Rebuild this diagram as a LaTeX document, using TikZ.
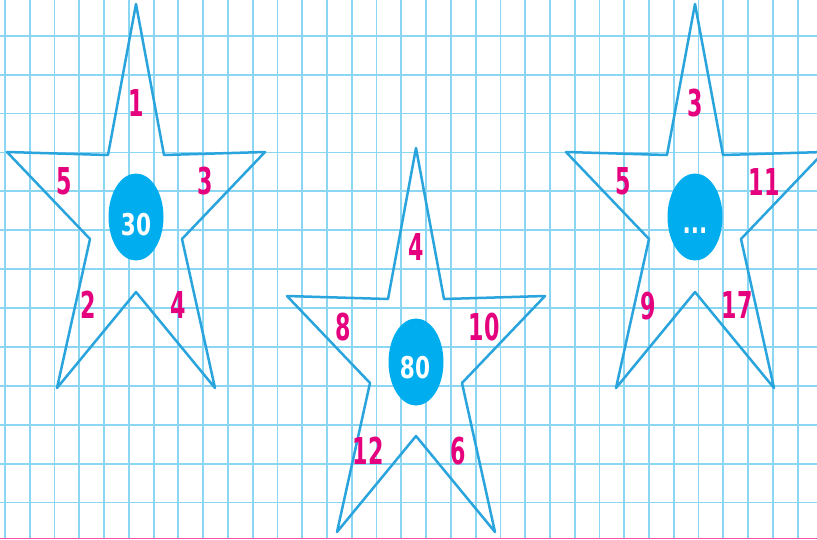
\documentclass[tikz,border=0pt]{standalone}
\usepackage{fontspec}
\usepackage{xcolor}
\usepackage{tikz}
\usetikzlibrary{shapes.geometric}

\newfontfamily\numfont[FakeStretch=0.6]{DejaVu Sans}
\newfontfamily\ctrfont[FakeStretch=0.72]{DejaVu Sans}

\definecolor{gridblue}{HTML}{8AD6F3}
\definecolor{starblue}{HTML}{2AA4DC}
\definecolor{discblue}{HTML}{00AEEF}
\definecolor{numpink}{HTML}{E5007D}
\definecolor{edgepink}{HTML}{FF4FAE}

\tikzset{
  gridline/.style={gridblue, line width=1.8pt},
  starline/.style={starblue, line width=2.5pt, line join=round},
  disc/.style={ellipse, fill=discblue, draw=none, minimum width=55pt, minimum height=87pt, inner sep=0pt},
  sidenum/.style={text=numpink, font=\numfont\bfseries\fontsize{37}{37}\selectfont, inner sep=0pt},
  centrenum/.style={text=white, font=\ctrfont\bfseries\fontsize{30}{30}\selectfont, inner sep=0pt}
}

\begin{document}
\begin{tikzpicture}[x=1pt, y=-1pt]
		\useasboundingbox (0,0) rectangle (817,539);
		\fill[white] (0,0) rectangle (817,539);
		\clip (0,0) rectangle (817,539);
		
		% Grid
		\foreach \k in {0,...,32}
			\draw[gridline] ({5+24.77*\k},0) -- ({5+24.77*\k},539);
		\foreach \k in {-1,...,12}
			\draw[gridline] (0,{35.7+38.9*\k}) -- (817,{35.7+38.9*\k});
		\draw[edgepink, line width=1.6pt] (0,538.3) -- (817,538.3);
		
		% Stars
		\foreach \tx/\ty in {136/4, 416/148, 695/4}
			\draw[starline, shift={(\tx,\ty)}] (0,0) -- (28,151) -- (129,148) -- (46,235) -- (79,384)
				-- (0,288) -- (-79,384) -- (-46,235) -- (-129,148) -- (-28,151) -- cycle;
		
		% Discs
		\node[disc] (c1) at (136,217) {};
		\node[disc] (c2) at (416,362) {};
		\node[disc] (c3) at (695,217) {};
		\node[centrenum] (t1) at (136,225) {30};
		\node[centrenum] (t2) at (415,368) {80};
		\node[centrenum] (t3) at (695,231) {...};
		
		% Numbers of the first star
		\node[sidenum] (s1a) at (136,103) {1};
		\node[sidenum] (s1b) at (205,181) {3};
		\node[sidenum] (s1c) at (178,305) {4};
		\node[sidenum] (s1d) at (88,305) {2};
		\node[sidenum] (s1e) at (64,181) {5};
		
		% Numbers of the second star
		\node[sidenum] (s2a) at (416,247) {4};
		\node[sidenum] (s2b) at (484,327) {10};
		\node[sidenum] (s2c) at (458,451) {6};
		\node[sidenum] (s2d) at (368,451) {12};
		\node[sidenum] (s2e) at (343,327) {8};
		
		% Numbers of the third star
		\node[sidenum] (s3a) at (695,103) {3};
		\node[sidenum] (s3b) at (764,182) {11};
		\node[sidenum] (s3c) at (737,305) {17};
		\node[sidenum] (s3d) at (648,306) {9};
		\node[sidenum] (s3e) at (623,181) {5};
	\end{tikzpicture}
\end{document}
